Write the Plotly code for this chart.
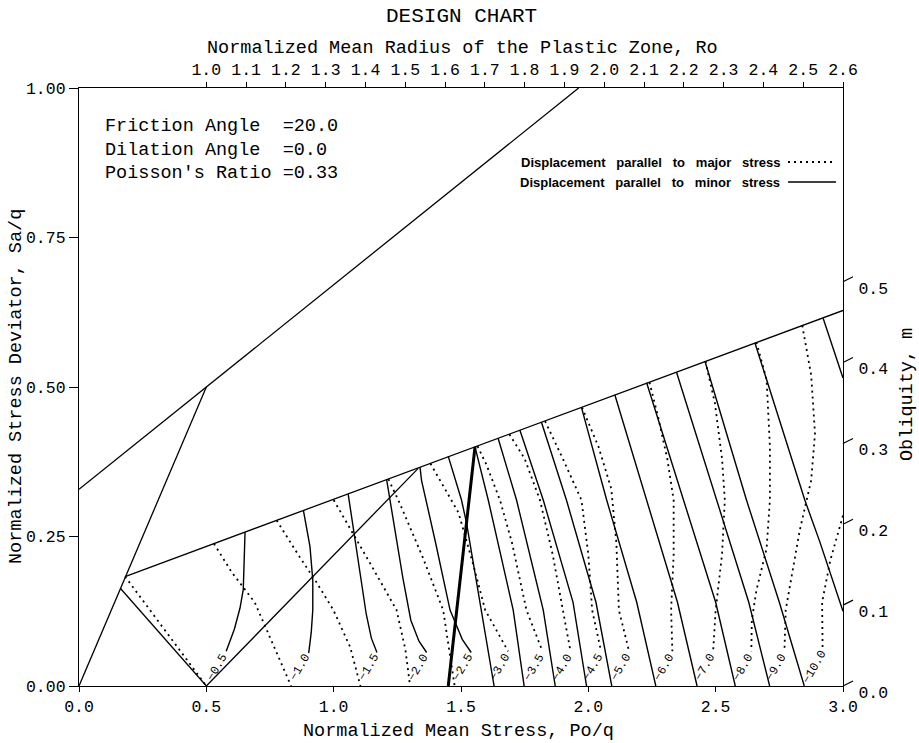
import plotly.graph_objects as go

FONT = "Liberation Mono"

# ---------------- data ----------------
# limit / locus lines  (x = Po/q , y = Sa/q)
steep_x = [0.0, 0.5];            steep_y = [0.0, 0.5]
mc_x = [0.0, 0.5, 1.962];        mc_y = [0.329, 0.5, 1.0]
fan_x = [0.181, 3.0];            fan_y = [0.183, 0.628]
elastic_x = [0.163, 0.5];        elastic_y = [0.163, 0.0]
diag_x = [0.5, 1.332];           diag_y = [0.0, 0.364]
thick_x = [1.45, 1.555];         thick_y = [0.0, 0.400]

# displacement parallel to minor stress (solid)
solid_curves = {
    "-0.5": ([0.652, 0.648, 0.645, 0.632, 0.610, 0.578], [0.257, 0.200, 0.161, 0.130, 0.095, 0.058]),
    "-1.0": ([0.881, 0.907, 0.918, 0.918, 0.912, 0.902], [0.294, 0.233, 0.177, 0.127, 0.090, 0.055]),
    "-1.5": ([1.057, 1.085, 1.110, 1.128, 1.148, 1.170], [0.321, 0.240, 0.170, 0.120, 0.080, 0.056]),
    "-2.0": ([1.208, 1.240, 1.272, 1.303, 1.335, 1.365], [0.345, 0.260, 0.180, 0.110, 0.075, 0.056]),
    "-2.5": ([1.339, 1.345, 1.400, 1.457, 1.505, 1.540], [0.366, 0.344, 0.240, 0.127, 0.078, 0.056]),
    "-3.0": ([1.450, 1.502, 1.522, 1.581, 1.630], [0.384, 0.311, 0.272, 0.127, 0.0]),
    "-3.5": ([1.555, 1.588, 1.607, 1.705, 1.748], [0.400, 0.344, 0.311, 0.127, 0.0]),
    "-4.0": ([1.646, 1.718, 1.823, 1.870], [0.414, 0.311, 0.127, 0.0]),
    "-4.5": ([1.731, 1.823, 1.940, 1.993], [0.428, 0.311, 0.140, 0.0]),
    "-5.0": ([1.816, 1.914, 2.030, 2.092], [0.441, 0.311, 0.140, 0.0]),
    "-6.0": ([1.973, 2.072, 2.190, 2.265], [0.466, 0.311, 0.140, 0.0]),
    "-7.0": ([2.104, 2.229, 2.350, 2.427], [0.487, 0.311, 0.140, 0.0]),
    "-8.0": ([2.229, 2.373, 2.500, 2.577], [0.507, 0.311, 0.140, 0.0]),
    "-9.0": ([2.346, 2.503, 2.630, 2.712], [0.525, 0.311, 0.140, 0.0]),
    "-10.0": ([2.458, 2.621, 2.750, 2.848], [0.543, 0.311, 0.140, 0.0]),
    "-12": ([2.654, 2.850, 2.909, 3.0], [0.574, 0.311, 0.241, 0.125]),
    "-15": ([2.922, 3.0], [0.615, 0.515]),
}

# displacement parallel to major stress (dotted)
dotted_curves = {
    "-0.5": ([0.181, 0.500], [0.183, 0.0]),
    "-1.0": ([0.530, 0.600, 0.690, 0.760, 0.833], [0.238, 0.190, 0.140, 0.070, 0.0]),
    "-1.5": ([0.776, 0.860, 0.930, 0.999, 1.065, 1.105], [0.277, 0.220, 0.175, 0.127, 0.065, 0.0]),
    "-2.0": ([1.000, 1.070, 1.150, 1.247, 1.282, 1.300], [0.311, 0.260, 0.200, 0.127, 0.060, 0.0]),
    "-2.5": ([1.215, 1.260, 1.350, 1.430, 1.475], [0.346, 0.305, 0.215, 0.127, 0.0]),
    "-3.0": ([1.380, 1.430, 1.490, 1.550, 1.595, 1.685], [0.372, 0.335, 0.290, 0.200, 0.127, 0.058]),
    "-3.5": ([1.565, 1.600, 1.653, 1.700, 1.757, 1.820], [0.401, 0.370, 0.311, 0.240, 0.127, 0.058]),
    "-4.0": ([1.690, 1.750, 1.810, 1.860, 1.900, 1.930], [0.421, 0.380, 0.311, 0.220, 0.127, 0.058]),
    "-4.5": ([1.830, 1.900, 1.973, 2.000, 2.015, 2.050], [0.443, 0.380, 0.311, 0.220, 0.127, 0.058]),
    "-5.0": ([1.975, 2.040, 2.090, 2.110, 2.120, 2.160], [0.466, 0.400, 0.330, 0.240, 0.127, 0.058]),
    "-6.0": ([2.240, 2.274, 2.310, 2.335, 2.335, 2.325, 2.330], [0.508, 0.450, 0.380, 0.311, 0.220, 0.127, 0.058]),
    "-7.0": ([2.460, 2.497, 2.525, 2.536, 2.525, 2.500, 2.490], [0.543, 0.473, 0.380, 0.311, 0.220, 0.127, 0.058]),
    "-8.0": ([2.660, 2.700, 2.713, 2.713, 2.700, 2.660, 2.642, 2.640], [0.575, 0.512, 0.400, 0.311, 0.230, 0.160, 0.110, 0.058]),
    "-9.0": ([2.840, 2.875, 2.890, 2.875, 2.830, 2.775, 2.770], [0.603, 0.520, 0.422, 0.344, 0.260, 0.127, 0.058]),
    "-10.0": ([3.000, 2.950, 2.918, 2.920], [0.285, 0.210, 0.140, 0.058]),
}

label_text = ["\u22120.5", "\u22121.0", "\u22121.5", "\u22122.0", "\u22122.5", "\u22123.0", "\u22123.5",
              "\u22124.0", "\u22124.5", "\u22125.0", "\u22126.0", "\u22127.0", "\u22128.0", "\u22129.0", "\u221210.0"]
label_x = [0.545, 0.870, 1.140, 1.335, 1.510, 1.655, 1.790, 1.900, 2.020, 2.130, 2.300, 2.460, 2.610, 2.740, 2.890]
label_y = [0.031] * len(label_x)

x_ticks = [0.0, 0.5, 1.0, 1.5, 2.0, 2.5, 3.0]
x_ticktext = ["0.0", "0.5", "1.0", "1.5", "2.0", "2.5", "3.0"]
y_ticks = [0.0, 0.25, 0.5, 0.75, 1.0]
y_ticktext = ["0.00", "0.25", "0.50", "0.75", "1.00"]
ro_ticks = [1.0, 1.1, 1.2, 1.3, 1.4, 1.5, 1.6, 1.7, 1.8, 1.9, 2.0, 2.1, 2.2, 2.3, 2.4, 2.5, 2.6]
ro_ticktext = ["%.1f" % v for v in ro_ticks]
ro_range = [0.68, 2.6]
m_ticks = [0.0, 0.1, 0.2, 0.3, 0.4, 0.5]
m_ticktext = ["0.0", "0.1", "0.2", "0.3", "0.4", "0.5"]
m_range = [0.0, 0.7396]

params_text = ["Friction Angle  =20.0", "Dilation Angle  =0.0", "Poisson's Ratio =0.33"]
legend_text = ["Displacement   parallel   to   major   stress", "Displacement   parallel   to   minor   stress"]

# ---------------- figure ----------------
W, H = 919, 743
ML, MR, MT, MB = 79, 76, 88, 57
PW, PH = W - ML - MR, H - MT - MB
TICK = 16.5


def px_x(p):
    return (p - ML) / PW


def px_y(p):
    return (H - MB - p) / PH


fig = go.Figure()


def add_line(x, y, width=1.3, dash="solid"):
    fig.add_trace(go.Scatter(x=x, y=y, mode="lines", hoverinfo="skip", showlegend=False,
                             line=dict(color="black", width=width, dash=dash)))


for xs, ys in [(steep_x, steep_y), (mc_x, mc_y), (fan_x, fan_y), (elastic_x, elastic_y), (diag_x, diag_y)]:
    add_line(xs, ys)
add_line(thick_x, thick_y, width=3.0)
for k, (xs, ys) in solid_curves.items():
    add_line(xs, ys, width=1.4)
for k, (xs, ys) in dotted_curves.items():
    add_line(xs, ys, width=1.8, dash="2px,4px")

# helper trace to activate the secondary axes
fig.add_trace(go.Scatter(x=[1.5], y=[0.1], xaxis="x2", yaxis="y2", mode="markers",
                         marker=dict(opacity=0), hoverinfo="skip", showlegend=False))

axis_common = dict(showline=True, linecolor="black", linewidth=1.3, showgrid=False, zeroline=False,
                   tickcolor="black", tickwidth=1.2, tickfont=dict(family=FONT, size=TICK, color="black"))

fig.update_layout(
    width=W, height=H, margin=dict(l=ML, r=MR, t=MT, b=MB),
    paper_bgcolor="white", plot_bgcolor="white", showlegend=False,
    font=dict(family=FONT, size=18, color="black"),
    xaxis=dict(range=[0, 3], tickvals=x_ticks, ticktext=x_ticktext, ticks="outside", ticklen=5, **axis_common),
    yaxis=dict(range=[0, 1], tickvals=y_ticks, ticktext=y_ticktext, ticks="outside", ticklen=9, **axis_common),
    xaxis2=dict(range=ro_range, overlaying="x", side="top", anchor="y", tickvals=ro_ticks, ticktext=ro_ticktext,
                ticks="outside", ticklen=5, **axis_common),
    yaxis2=dict(range=m_range, overlaying="y", side="right", anchor="x", tickvals=m_ticks, ticktext=m_ticktext,
                ticks="", ticklabelshift=6, ticklabelstandoff=11, **axis_common),
)


def note(text, xp, yp, size=18.5, family=FONT, xanchor="center", angle=0):
    return dict(text=text, x=px_x(xp), y=px_y(yp), xref="paper", yref="paper", showarrow=False,
                xanchor=xanchor, yanchor="middle", textangle=angle, font=dict(family=family, size=size))


ann = []
ann.append(note("DESIGN CHART", 461, 16, size=21))
ann.append(note("Normalized Mean Radius of the Plastic Zone, Ro", 462, 48))
ann.append(note("Normalized Mean Stress, Po/q", 458, 731))
ann.append(note("Normalized Stress Deviator, Sa/q", 16, 387, angle=-90))
ann.append(note("Obliquity, m", 907, 395, angle=-90))
for i, t in enumerate(params_text):
    ann.append(note(t.replace(" ", "&nbsp;"), 103, 127 + 23 * i, xanchor="left"))
for i, t in enumerate(legend_text):
    ann.append(note("<b>" + t.replace(" ", "&nbsp;") + "</b>", 782, 162 + 20 * i, size=13,
                    family="Liberation Sans", xanchor="right"))
for t, lx, ly in zip(label_text, label_x, label_y):
    ann.append(dict(text=t, x=lx, y=ly, xref="x", yref="y", showarrow=False, textangle=-60,
                    xanchor="center", yanchor="middle", font=dict(family=FONT, size=12)))
fig.update_layout(annotations=ann)

shapes = []
# legend samples
shapes.append(dict(type="line", xref="paper", yref="paper", x0=px_x(788), x1=px_x(836), y0=px_y(162), y1=px_y(162),
                   line=dict(color="black", width=1.8, dash="2px,4px")))
shapes.append(dict(type="line", xref="paper", yref="paper", x0=px_x(788), x1=px_x(836), y0=px_y(182), y1=px_y(182),
                   line=dict(color="black", width=1.3)))
# slanted obliquity ticks
for m in m_ticks:
    yp = (m - m_range[0]) / (m_range[1] - m_range[0])
    shapes.append(dict(type="line", xref="paper", yref="paper", x0=1.0, x1=1.0 + 10 / PW, y0=yp, y1=yp + 5 / PH,
                       line=dict(color="black", width=1.2)))
fig.update_layout(shapes=shapes)

fig.write_html("out.html")
